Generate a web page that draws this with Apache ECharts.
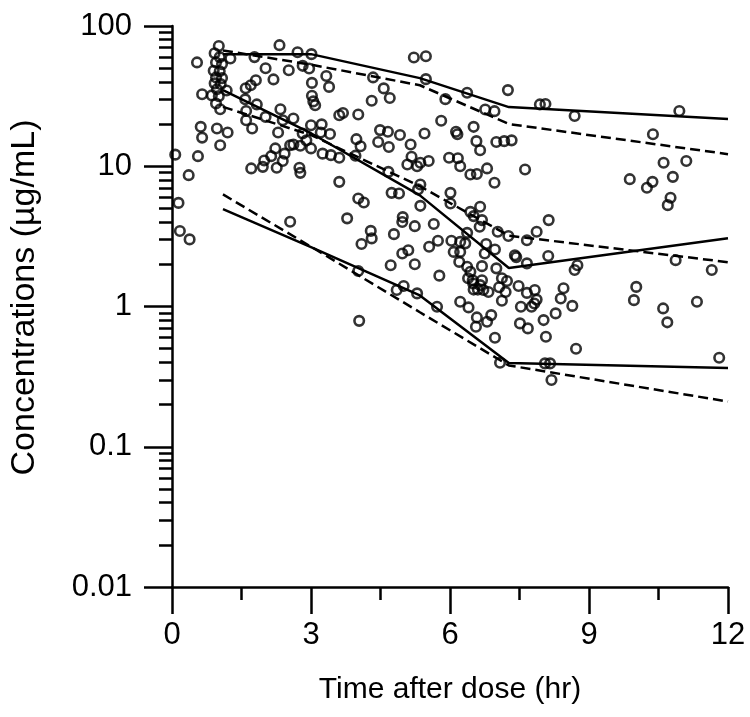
<!DOCTYPE html>
<html>
<head>
<meta charset="utf-8">
<script src="https://cdn.jsdelivr.net/npm/echarts@6/dist/echarts.min.js"></script>
<style>
html, body { margin: 0; padding: 0; background: #fff; }
#chart { width: 750px; height: 717px; }
</style>
</head>
<body>
<div id="chart"></div>
<script>
// observed concentrations (time in hr, concentration in ug/mL)
const obsTime = [
  1.01, 2.32, 2.71, 3.01, 0.54, 0.92, 1.03, 0.95, 1.08, 0.90,
  1.03, 0.95, 1.08, 0.92, 1.05, 0.97, 0.86, 1.01, 1.26, 1.78,
  2.02, 2.52, 2.82, 2.96, 3.33, 3.39, 2.19, 1.81, 1.59, 1.70,
  3.02, 3.02, 3.05, 3.09, 0.65, 0.95, 1.04, 1.18, 1.58, 1.83,
  1.60, 2.34, 2.02, 2.39, 2.62, 3.61, 3.69, 1.60, 1.73, 0.62,
  0.65, 0.97, 1.20, 1.04, 2.29, 2.82, 3.00, 3.23, 3.21, 3.41,
  2.90, 2.55, 2.62, 2.77, 3.00, 2.23, 2.43, 2.14, 1.99, 2.39,
  1.96, 1.71, 2.26, 2.75, 2.77, 3.25, 3.43, 3.61, 0.07, 0.56,
  0.36, 3.61, 0.14, 0.17, 0.38, 2.55, 3.78, 4.02, 4.14, 5.22,
  5.48, 4.34, 5.48, 4.57, 4.70, 4.31, 6.37, 7.25, 7.94, 8.06,
  5.90, 6.76, 6.96, 4.02, 5.81, 6.51, 6.13, 6.16, 4.49, 4.66,
  4.92, 5.45, 3.98, 4.45, 4.68, 5.15, 6.57, 6.65, 7.00, 7.17,
  7.33, 4.07, 3.96, 5.17, 5.08, 5.29, 5.36, 5.54, 5.98, 6.17,
  6.22, 6.44, 6.58, 6.80, 7.62, 4.67, 5.36, 6.96, 5.31, 4.74,
  4.90, 6.01, 6.01, 5.36, 6.65, 6.44, 8.69, 10.95, 10.38, 10.61,
  11.10, 9.88, 10.37, 10.25, 10.81, 10.76, 10.70, 4.98, 4.97, 5.65,
  5.24, 4.29, 4.31, 4.79, 4.09, 5.55, 5.74, 6.03, 6.22, 6.33,
  6.37, 6.08, 6.22, 6.78, 6.75, 6.97, 4.97, 5.10, 7.03, 7.26,
  7.66, 7.87, 6.51, 6.69, 6.64, 4.72, 5.24, 5.77, 6.20, 6.37,
  6.44, 6.39, 6.49, 6.69, 7.00, 7.40, 7.43, 7.66, 7.12, 7.23,
  7.48, 6.51, 6.60, 6.72, 6.83, 6.69, 6.65, 7.06, 7.20, 7.66,
  7.83, 7.87, 7.82, 7.76, 7.12, 7.53, 6.22, 6.40, 6.58, 6.56,
  6.80, 6.89, 7.51, 7.68, 6.97, 7.08, 4.04, 5.00, 5.29, 5.72,
  4.85, 4.02, 8.13, 8.12, 8.75, 8.69, 10.87, 11.65, 10.02, 9.97,
  10.60, 10.69, 11.33, 8.45, 8.39, 8.64, 8.28, 8.02, 8.07, 8.72,
  8.05, 8.16, 8.19, 11.81, 6.50
];
const obsConc = [
  72, 73, 65, 63, 55, 64, 60, 55, 53.5, 48,
  47.6, 43, 42.5, 39, 38.5, 35.4, 32, 31.6, 58.7, 60,
  50, 48.4, 52, 49.8, 44, 36.8, 41.6, 41, 36, 37.8,
  39.3, 31.8, 29, 27.2, 32.6, 28, 25.5, 34.7, 30, 27.6,
  24.8, 25.5, 22.5, 21.3, 21.9, 23.1, 24, 21.3, 18.6, 19.1,
  16, 18.6, 17.4, 14.1, 17.4, 17.1, 19.6, 19.9, 17.4, 17,
  15.3, 14.1, 14.3, 14, 13.4, 13.4, 12.3, 11.8, 11, 10.9,
  9.9, 9.65, 9.75, 9.75, 8.97, 12.3, 12, 11.5, 12.1, 11.8,
  8.64, 7.74, 5.48, 3.45, 3.01, 4.02, 4.25, 5.89, 5.52, 59.6,
  60.9, 43, 41.8, 35.9, 30.7, 29.3, 33.4, 34.9, 27.6, 27.8,
  30.1, 25.4, 24.7, 23.4, 21.1, 19.1, 17.6, 16.9, 18.1, 17.6,
  16.7, 17.1, 15.6, 14.9, 13.7, 14.3, 15.1, 13, 14.9, 15.1,
  15.3, 13.9, 11.9, 11.7, 10.3, 10, 10.6, 10.9, 11.5, 11.4,
  10, 8.74, 8.8, 9.65, 9.49, 9.12, 7.42, 7.62, 6.84, 6.46,
  6.4, 6.46, 5.43, 5.22, 5.14, 4.73, 22.8, 24.8, 16.9, 10.6,
  10.9, 8.09, 7.74, 7.02, 8.4, 5.96, 5.28, 4.34, 4.0, 3.87,
  3.74, 3.46, 3.06, 3.28, 2.79, 2.67, 2.94, 2.94, 2.89, 2.82,
  3.35, 2.45, 2.45, 2.79, 2.39, 2.55, 2.39, 2.52, 3.41, 3.18,
  2.97, 3.41, 4.41, 4.13, 3.70, 1.97, 2.0, 1.66, 2.08, 1.92,
  1.77, 1.59, 1.54, 1.94, 1.87, 2.32, 2.25, 2.03, 1.59, 1.52,
  1.40, 1.32, 1.32, 1.31, 1.27, 1.54, 1.42, 1.37, 1.27, 1.25,
  1.31, 1.12, 1.05, 0.995, 1.10, 0.995, 1.08, 0.985, 0.836, 0.717,
  0.778, 0.868, 0.758, 0.698, 0.598, 0.397, 0.79, 1.40, 1.24, 0.995,
  1.31, 1.79, 4.13, 2.29, 1.97, 1.82, 2.14, 1.82, 1.38, 1.11,
  0.969, 0.771, 1.08, 1.35, 1.14, 1.01, 0.893, 0.80, 0.608, 0.50,
  0.393, 0.393, 0.299, 0.431, 1.46
];

// percentile lines (solid = observed, dashed = predicted)
const bandTime = [1.1, 3, 5.35, 7.27, 12];
const obsP95 = [63, 63, 42.5, 26.4, 21.7];
const obsP50 = [34.9, 17.2, 6.2, 1.88, 3.07];
const obsP5 = [4.95, 2.65, 1.2, 0.395, 0.364];
const predP95 = [67, 53, 37.8, 20, 12.2];
const predP50 = [26.5, 16.7, 7.2, 3.2, 2.07];
const predP5 = [6.3, 2.67, 0.91, 0.38, 0.21];

// minor ticks of the log axis
const yMinor = [
  0.02, 0.03, 0.04, 0.05, 0.06, 0.07, 0.08, 0.09,
  0.2, 0.3, 0.4, 0.5, 0.6, 0.7, 0.8, 0.9,
  2, 3, 4, 5, 6, 7, 8, 9,
  20, 30, 40, 50, 60, 70, 80, 90
];

const black = '#000';
const font = "'Liberation Sans', Arial, sans-serif";
const axisStroke = { color: black, width: 2.5 };

function band(values, dashed) {
  return {
    type: 'line',
    data: bandTime.map((t, i) => [t, values[i]]),
    symbol: 'none',
    silent: true,
    z: 3,
    lineStyle: { color: black, width: 2.5, type: dashed ? [10, 5] : 'solid' }
  };
}

const chart = echarts.init(document.getElementById('chart'));
chart.setOption({
  animation: false,
  backgroundColor: '#fff',
  grid: { left: 170, right: 22, top: 26, bottom: 130 },
  xAxis: {
    type: 'value',
    min: 0,
    max: 12,
    interval: 3,
    name: 'Time after dose (hr)',
    nameLocation: 'middle',
    nameGap: 88,
    nameTextStyle: { fontFamily: font, fontSize: 30, color: black },
    axisLine: { lineStyle: axisStroke },
    axisTick: { length: 27, lineStyle: axisStroke },
    minorTick: { show: true, splitNumber: 2, length: 13, lineStyle: axisStroke },
    axisLabel: { margin: 33, fontFamily: font, fontSize: 31, color: black },
    splitLine: { show: false }
  },
  yAxis: [{
    type: 'log',
    min: 0.01,
    max: 100,
    // leading spacer nudges the rotated title upward like the original
    name: '{s|}Concentrations (\u00b5g/mL)',
    nameLocation: 'middle',
    nameRotate: 90,
    nameGap: 130,
    nameTextStyle: { fontFamily: font, fontSize: 34, color: black, rich: { s: { width: 18 } } },
    axisLine: { lineStyle: axisStroke },
    axisTick: { length: 28, lineStyle: axisStroke },
    axisLabel: { margin: 40, fontFamily: font, fontSize: 31, color: black },
    splitLine: { show: false }
  }, {
    type: 'log',
    min: 0.01,
    max: 100,
    position: 'left',
    axisLine: { show: false },
    axisTick: { length: 13, customValues: yMinor, lineStyle: axisStroke },
    axisLabel: { show: false },
    splitLine: { show: false }
  }],
  series: [
    {
      type: 'scatter',
      data: obsTime.map((t, i) => [t, obsConc[i]]),
      symbol: 'circle',
      symbolSize: 9.5,
      z: 2,
      itemStyle: { color: 'transparent', borderColor: black, borderWidth: 2.6 }
    },
    band(obsP95, false),
    band(obsP50, false),
    band(obsP5, false),
    band(predP95, true),
    band(predP50, true),
    band(predP5, true)
  ]
});
</script>
</body>
</html>
